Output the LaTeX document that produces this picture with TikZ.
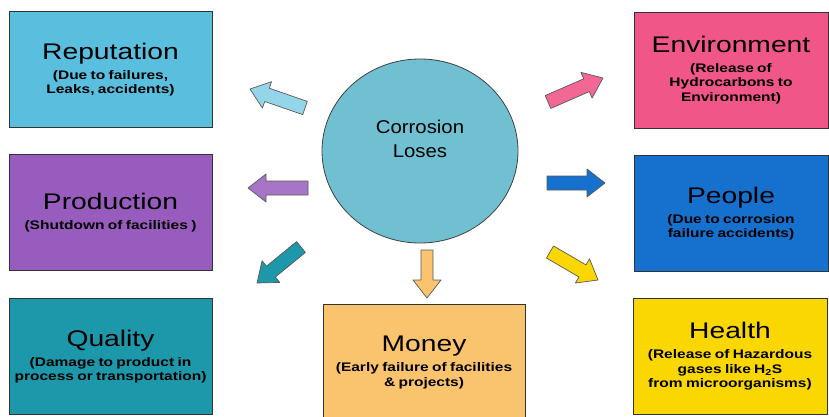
\documentclass[tikz,border=0pt]{standalone}
\usepackage{fontspec}
\usepackage{tikz}
\usetikzlibrary{calc,shapes.geometric}

\newfontfamily\boxfont[FakeStretch=1.25]{Liberation Sans}
\newfontfamily\ringfont[FakeStretch=1.1]{Liberation Sans}
\newcommand{\heading}{\boxfont\fontsize{22.6}{24}\selectfont}
\newcommand{\detail}{\boxfont\bfseries\fontsize{12.4}{14.5}\selectfont}
\newcommand{\boxtext}[2]{{\heading #1\par}\vspace{5.5pt}{\detail #2\par}}
\setlength{\lineskiplimit}{-20pt}

\definecolor{repblue}{RGB}{90,190,222}
\definecolor{envpink}{RGB}{240,86,136}
\definecolor{prodpurple}{RGB}{152,92,190}
\definecolor{peopleblue}{RGB}{22,112,205}
\definecolor{qualteal}{RGB}{28,152,170}
\definecolor{moneyorange}{RGB}{250,195,110}
\definecolor{healthyellow}{RGB}{250,215,0}
\definecolor{ringblue}{RGB}{112,192,210}

% outlined block arrow from a tail point to a tip point
\newcommand{\blockarrow}[5]{% fill, tail, tip, shaft half width, head half width
  \coordinate (hb) at ($(#3)!18pt!(#2)$);
  \draw[arrowline, fill=#1]
    ($(#2)!#4!90:(#3)$) -- ($(hb)!#4!-90:(#2)$) -- ($(hb)!#5!-90:(#2)$) -- (#3)
    -- ($(hb)!#5!90:(#2)$) -- ($(hb)!#4!90:(#2)$) -- ($(#2)!#4!-90:(#3)$) -- cycle;}

\begin{document}
\begin{tikzpicture}[
    x=1pt, y=-1pt,
    lossbox/.style={rectangle, draw=black!80, line width=0.8pt, inner sep=2pt,
      minimum height=116, align=center},
    leftbox/.style={lossbox, minimum width=203, text width=196},
    rightbox/.style={lossbox, minimum width=194, text width=188},
    arrowline/.style={draw=black!65, line width=0.7pt, line join=round},
    ]
    \useasboundingbox (0,0) rectangle (829,417);

    \node [ellipse, draw=black!75, line width=0.8pt, fill=ringblue,
      minimum width=196, minimum height=184] (loss) at (420,151) {};
    \node [font=\ringfont\fontsize{18.5}{24}\selectfont, align=center]
      (losstitle) at ([yshift=12pt]loss.center) {Corrosion\\Loses};

    \node [leftbox, fill=repblue] (rep) at (110.5,69.5)
      {\boxtext{Reputation}{(Due to failures,\\Leaks, accidents)}};
    \node [leftbox, fill=prodpurple] (prod) at (110.5,212.5)
      {\boxtext{Production}{(Shutdown of facilities )}};
    \node [leftbox, fill=qualteal] (qual) at (110.5,356.5)
      {\boxtext{Quality}{(Damage to product in\\process or transportation)}};
    \node [leftbox, minimum width=202, fill=moneyorange] (money) at (424,362.5)
      {\boxtext{Money}{(Early failure of facilities\\\& projects)}};
    \node [rightbox, fill=envpink] (env) at (731,70)
      {\boxtext{Environment}{(Release of\\Hydrocarbons to\\Environment)}};
    \node [rightbox, fill=peopleblue] (people) at (731,213.5)
      {\boxtext{People}{(Due to corrosion\\failure accidents)}};
    \node [rightbox, fill=healthyellow] (health) at (730,356.5)
      {\boxtext{Health}{(Release of Hazardous\\gases like H\textsubscript{2}S\\from microorganisms)}};

    % arrow ends
    \coordinate (repTail) at (305,108);   \coordinate (repTip) at (250,89);
    \coordinate (prodTail) at (308,188);  \coordinate (prodTip) at (248,188);
    \coordinate (qualTail) at (301,247);  \coordinate (qualTip) at (257,283);
    \coordinate (moneyTail) at (427,250); \coordinate (moneyTip) at (427,298);
    \coordinate (envTail) at (548,102);   \coordinate (envTip) at (603,78);
    \coordinate (peopleTail) at (547,183);\coordinate (peopleTip) at (605,183);
    \coordinate (healthTail) at (550,252);\coordinate (healthTip) at (598,280);

    \blockarrow{repblue!65!white}{repTail}{repTip}{7pt}{14pt}
    \blockarrow{prodpurple!85!white}{prodTail}{prodTip}{7pt}{14pt}
    \blockarrow{qualteal}{qualTail}{qualTip}{7pt}{14pt}
    \blockarrow{moneyorange}{moneyTail}{moneyTip}{6pt}{14pt}
    \blockarrow{envpink!90!white}{envTail}{envTip}{7pt}{14pt}
    \blockarrow{peopleblue}{peopleTail}{peopleTip}{7pt}{14pt}
    \blockarrow{healthyellow}{healthTail}{healthTip}{7pt}{14pt}
\end{tikzpicture}
\end{document}
